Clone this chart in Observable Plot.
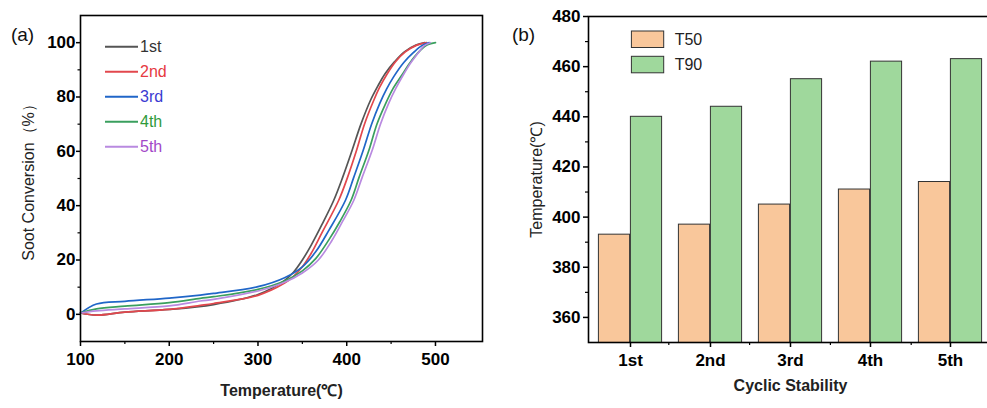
<!DOCTYPE html>
<html><head><meta charset="utf-8">
<script src="https://cdn.jsdelivr.net/npm/d3@7"></script>
<script src="https://cdn.jsdelivr.net/npm/@observablehq/plot@0.6"></script>
<style>
html,body{margin:0;padding:0;background:#fff;overflow:hidden;width:987px;height:408px}
#wrap{position:relative;width:1000px;height:408px;font-family:"Liberation Sans",Arial,sans-serif}
.panel{position:absolute;top:0}
</style></head><body><div id="wrap"><div id="a" class="panel" style="left:0"></div><div id="b" class="panel" style="left:490px"></div></div>
<script>
// ---------- Panel (a) data ----------
const series = ["1st", "2nd", "3rd", "4th", "5th"];
const lineColors = ["#555555", "#e2474d", "#2066c8", "#3a9f5e", "#b98ae0"];
const labelColors = ["#333333", "#e63a3f", "#3a3ad2", "#2f9a3a", "#a348c8"];
const curve1st = [[100,0.5],[118,-0.3],[150,0.8],[200,1.8],[250,3.6],[300,7.3],[330,12.5],[340,15.5],[350,20],[360,25.5],[372,33],[385.4,42],[395.5,50.5],[406,60.3],[416,70],[426.8,78.8],[435,84],[443,88.5],[454,93],[465,96.6],[478,99.1],[488,100]];
const curve2nd = [[100,0.5],[118,-0.3],[150,0.8],[200,1.8],[235,3.3],[250,4],[300,7.0],[330,11.5],[340,14],[350,17.5],[360,22.5],[372,30],[391,42],[401,50.5],[411,60.3],[420,70],[430.5,78.8],[437,83.5],[445,88.2],[455,93],[466,96.6],[479,99.1],[490,100]];
const curve3rd = [[100,0.4],[118,3.8],[150,4.8],[200,6.0],[235,7.1],[250,7.7],[300,10.2],[330,13.5],[350,17.5],[365,23],[380,31],[398.6,42],[408,50.5],[418.5,60.3],[428,70],[437,77.5],[445,83],[453,87.5],[464.3,92.7],[475.6,96.5],[485,99],[493,100]];
const curve4th = [[100,0.5],[118,2.0],[150,3.0],[200,4.3],[235,5.9],[250,6.5],[300,9.2],[330,12.3],[350,16],[365,20.5],[380,27.5],[392,34],[404.9,42],[414,50.5],[424.9,60.3],[434,70],[443.7,77.5],[452,83],[462,88],[471.5,92.7],[481,96.5],[491,99.2],[500,100]];
const curve5th = [[100,0.5],[118,1.3],[150,2.0],[200,3.1],[235,4.9],[250,5.5],[300,8.6],[330,11.8],[350,15.2],[368,20],[383,27],[395,34],[408,42],[417.5,50.5],[428.6,60.3],[438,70],[447,77.5],[455,83],[463.5,88],[472,92.5],[480,96],[487,98.8],[494,100]];
const xTicksA = [100, 200, 300, 400, 500];
const xMinorA = [150, 250, 350, 450];
const yTicksA = [0, 20, 40, 60, 80, 100];
const yMinorA = [10, 30, 50, 70, 90];

// ---------- Panel (b) data ----------
const cats = ["1st", "2nd", "3rd", "4th", "5th"];
const t50 = [393, 397, 405, 411, 414];
const t90 = [440, 444, 455, 462, 463];
const barKeys = ["T50", "T90"];
const barColors = ["#f9c79b", "#9fd89c"];
const yTicksB = [360, 380, 400, 420, 440, 460, 480];
const yMinorB = [370, 390, 410, 430, 450, 470];

const FONT = '"Liberation Sans", Arial, sans-serif';

const curves = [curve1st, curve2nd, curve3rd, curve4th, curve5th];
const rows = curves.flatMap((c, i) => c.map(([t, v]) => ({s: series[i], t, v})));

function legendA(index, scales, values, dim) {
  const g = d3.create("svg:g");
  series.forEach((s, i) => {
    const y = dim.marginTop + 31.7 + 25 * i;
    g.append("line").attr("x1", dim.marginLeft + 25).attr("x2", dim.marginLeft + 58)
      .attr("y1", y).attr("y2", y).attr("stroke", lineColors[i]).attr("stroke-width", 2);
    g.append("text").attr("x", dim.marginLeft + 60).attr("y", y).attr("dy", "0.36em")
      .attr("text-anchor", "start")
      .attr("fill", labelColors[i]).attr("font-size", 16).attr("font-family", FONT).text(s);
  });
  return g.node();
}

const plotA = Plot.plot({
  width: 490, height: 408,
  marginLeft: 80, marginRight: 8, marginTop: 15, marginBottom: 67,
  style: {fontFamily: FONT, fontSize: "17px", color: "#000", background: "transparent", overflow: "visible"},
  x: {type: "linear", domain: [100, 553]},
  y: {domain: [-10, 110]},
  color: {domain: series, range: lineColors},
  marks: [
    Plot.axisX({ticks: xTicksA, tickSize: 5, tickPadding: 6, fontWeight: "bold", fontSize: 17, label: null, strokeWidth: 1.5}),
    Plot.axisX({ticks: xMinorA, tickSize: 3, tickFormat: () => "", label: null, strokeWidth: 1.2}),
    Plot.axisY({ticks: yTicksA, tickSize: 4, tickPadding: 1, fontWeight: "bold", fontSize: 17, label: null, strokeWidth: 1.5}),
    Plot.axisY({ticks: yMinorA, tickSize: 2.5, tickFormat: () => "", label: null, strokeWidth: 1.2}),
    Plot.line(rows, {x: "t", y: "v", z: "s", stroke: "s", curve: "catmull-rom", strokeWidth: 1.7}),
    Plot.frame({stroke: "#000", strokeWidth: 1.6}),
    Plot.text(["Soot Conversion（%）"], {frameAnchor: "left", dx: -52, rotate: -90, textAnchor: "middle", fontSize: 16, fill: "#222"}),
    Plot.text(["Temperature(℃)"], {frameAnchor: "bottom", dy: 54, textAnchor: "middle", fontSize: 16, fontWeight: "bold", fill: "#222"}),
    Plot.text(["(a)"], {frameAnchor: "top-left", dx: -58, dy: 12, textAnchor: "middle", fontSize: 19, fill: "#111"}),
    legendA
  ]
});
document.getElementById("a").appendChild(plotA);

// ---------- Panel (b) ----------
const barRows = cats.map((c, i) => ({c, t50: t50[i], t90: t90[i]}));

function extrasB(index, scales, values, dim) {
  const g = d3.create("svg:g");
  const left = dim.marginLeft, top = dim.marginTop;
  const w = dim.width - dim.marginLeft - dim.marginRight;
  const step = w / cats.length;
  const bottom = dim.height - dim.marginBottom;
  for (let k = 1; k < cats.length; k++) {
    g.append("line").attr("x1", left + k * step).attr("x2", left + k * step)
      .attr("y1", bottom).attr("y2", bottom + 3).attr("stroke", "#000").attr("stroke-width", 1.2);
  }
  barKeys.forEach((k, i) => {
    const y = top + 15 + 25.3 * i;
    g.append("rect").attr("x", left + 43.4).attr("y", y).attr("width", 32.3).attr("height", 16.5)
      .attr("fill", barColors[i]).attr("stroke", "#333").attr("stroke-width", 1);
    g.append("text").attr("x", left + 86.7).attr("y", y + 8.3).attr("dy", "0.36em")
      .attr("text-anchor", "start")
      .attr("font-size", 16).attr("font-family", FONT).attr("fill", "#222").text(k);
  });
  return g.node();
}

const plotB = Plot.plot({
  width: 510, height: 408,
  marginLeft: 98, marginRight: 8, marginTop: 16, marginBottom: 66,
  style: {fontFamily: FONT, fontSize: "17px", color: "#000", background: "transparent", overflow: "visible"},
  x: {domain: cats, padding: 0},
  y: {domain: [350, 480]},
  marks: [
    Plot.barY(barRows, {x: "c", y: "t50", fill: barColors[0], stroke: "#333", strokeWidth: 1, insetLeft: 8.4, insetRight: 40.4, clip: true}),
    Plot.barY(barRows, {x: "c", y: "t90", fill: barColors[1], stroke: "#333", strokeWidth: 1, insetLeft: 40.4, insetRight: 8.4, clip: true}),
    Plot.axisX({tickSize: 5, tickPadding: 6, fontWeight: "bold", fontSize: 17, label: null, strokeWidth: 1.5}),
    Plot.axisY({ticks: yTicksB, tickSize: 5, tickPadding: 3, fontWeight: "bold", fontSize: 17, label: null, strokeWidth: 1.5}),
    Plot.axisY({ticks: yMinorB, tickSize: 3, tickFormat: () => "", label: null, strokeWidth: 1.2}),
    Plot.frame({stroke: "#000", strokeWidth: 1.6}),
    Plot.text(["Temperature(℃)"], {frameAnchor: "left", dx: -51.6, rotate: -90, textAnchor: "middle", fontSize: 16, fill: "#222"}),
    Plot.text(["Cyclic Stability"], {frameAnchor: "bottom", dy: 48, textAnchor: "middle", fontSize: 16, fontWeight: "bold", fill: "#222"}),
    Plot.text(["(b)"], {frameAnchor: "top-left", dx: -65, dy: 11, textAnchor: "middle", fontSize: 19, fill: "#111"}),
    extrasB
  ]
});
document.getElementById("b").appendChild(plotB);
</script>
</body></html>
